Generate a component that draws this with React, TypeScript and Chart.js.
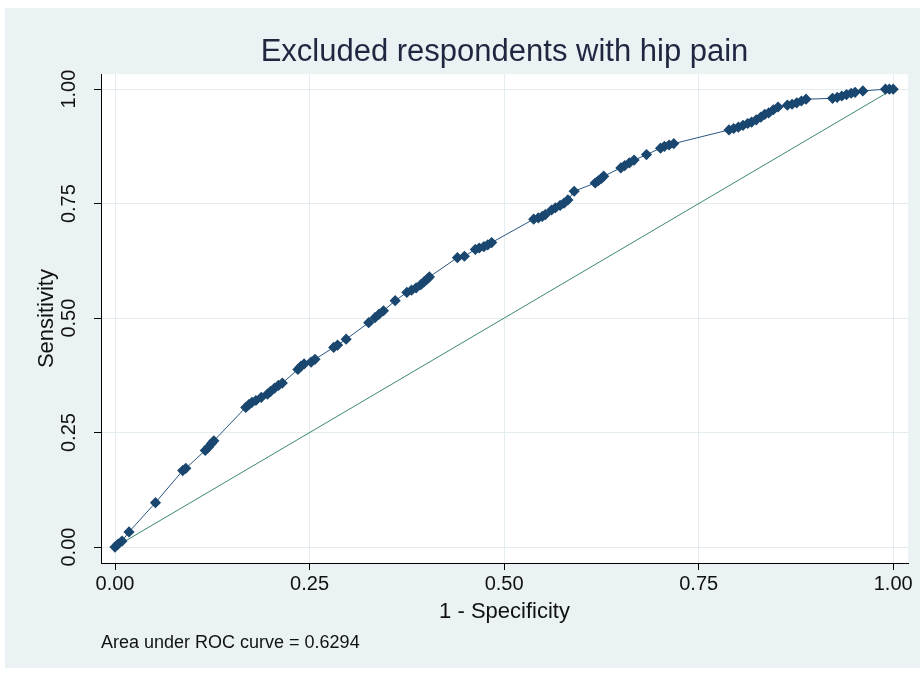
import React, { useEffect, useRef } from "react";
import { Chart, registerables } from "chart.js";

Chart.register(...registerables);

// ROC curve: 1 - specificity (false positive rate) and sensitivity at each cut-off
const rocFpr = [
  0, 0.004, 0.009, 0.018, 0.052, 0.087, 0.091, 0.116, 0.12, 0.124, 0.127, 0.168, 0.172, 0.176, 0.181, 0.188,
  0.196, 0.2, 0.205, 0.21, 0.215, 0.235, 0.239, 0.243, 0.252, 0.257, 0.281, 0.286, 0.297, 0.326, 0.334, 0.339,
  0.345, 0.36, 0.375, 0.381, 0.387, 0.393, 0.397, 0.401, 0.404, 0.44, 0.449, 0.463, 0.468, 0.474, 0.479, 0.484,
  0.538, 0.544, 0.549, 0.553, 0.561, 0.566, 0.572, 0.577, 0.582, 0.59, 0.617, 0.621, 0.625, 0.628, 0.65, 0.655,
  0.661, 0.667, 0.683, 0.701, 0.706, 0.712, 0.718, 0.789, 0.795, 0.801, 0.807, 0.813, 0.818, 0.824, 0.83, 0.835,
  0.84, 0.846, 0.852, 0.864, 0.87, 0.876, 0.882, 0.888, 0.922, 0.928, 0.934, 0.94, 0.946, 0.951, 0.961, 0.99,
  0.995, 1,
];
const rocTpr = [
  0, 0.0065, 0.013, 0.033, 0.097, 0.167, 0.172, 0.211, 0.218, 0.226, 0.232, 0.305, 0.311, 0.316, 0.32, 0.327,
  0.334, 0.34, 0.347, 0.353, 0.358, 0.388, 0.395, 0.4, 0.404, 0.41, 0.436, 0.441, 0.454, 0.49, 0.501, 0.508,
  0.516, 0.538, 0.556, 0.561, 0.566, 0.573, 0.579, 0.585, 0.59, 0.632, 0.635, 0.65, 0.653, 0.656, 0.66, 0.665,
  0.716, 0.719, 0.722, 0.726, 0.736, 0.741, 0.746, 0.751, 0.758, 0.777, 0.795, 0.8, 0.805, 0.81, 0.828, 0.833,
  0.839, 0.845, 0.857, 0.871, 0.875, 0.878, 0.881, 0.911, 0.914, 0.917, 0.921, 0.925, 0.928, 0.933, 0.939, 0.945,
  0.948, 0.955, 0.961, 0.965, 0.967, 0.97, 0.974, 0.978, 0.98, 0.982, 0.985, 0.988, 0.991, 0.993, 0.996, 1,
  1, 1,
];

// Chance line
const refX = [0, 1];
const refY = [0, 1];

const axisTicks = [0, 0.25, 0.5, 0.75, 1];
const areaUnderCurve = 0.6294;

const titleText = "Excluded respondents with hip pain";
const xTitle = "1 - Specificity";
const yTitle = "Sensitivity";

const FONT = "'Liberation Sans', Arial, Helvetica, sans-serif";
const NAVY = "#1a476f";
const GRID = "#e3edf0";
const BG = "#eaf2f3";

const plotBackground = {
  id: "plotBackground",
  beforeDraw(chart: any) {
    const { ctx, chartArea } = chart;
    ctx.save();
    ctx.fillStyle = "#ffffff";
    ctx.fillRect(chartArea.left, chartArea.top, chartArea.right - chartArea.left, chartArea.bottom - chartArea.top);
    ctx.restore();
  },
};

const fixedTicks = (scale: any) => {
  scale.ticks = axisTicks.map((v) => ({ value: v }));
};

export default function App() {
  const canvasRef = useRef<HTMLCanvasElement | null>(null);

  useEffect(() => {
    if (!canvasRef.current) return;
    const rocPoints = rocFpr.map((x, i) => ({ x, y: rocTpr[i] }));
    const refPoints = refX.map((x, i) => ({ x, y: refY[i] }));

    const chart = new Chart(canvasRef.current, {
      type: "scatter",
      data: {
        datasets: [
          {
            data: rocPoints,
            showLine: true,
            borderColor: "#2a5783",
            borderWidth: 1,
            pointStyle: "rectRot",
            pointRadius: 4.6,
            pointBorderWidth: 1.4,
            pointBackgroundColor: NAVY,
            pointBorderColor: NAVY,
            order: 0,
          },
          {
            data: refPoints,
            showLine: true,
            borderColor: "#3b8a6e",
            borderWidth: 1,
            pointRadius: 0,
            order: 1,
          },
        ],
      },
      options: {
        animation: false,
        responsive: true,
        maintainAspectRatio: false,
        layout: { padding: { left: 0, right: 12, top: 0, bottom: 0 } },
        plugins: {
          legend: { display: false },
          tooltip: { enabled: false },
          title: {
            display: true,
            text: titleText,
            fullSize: false,
            color: "#1f2740",
            font: { family: FONT, size: 31, weight: "normal" },
            padding: { top: 26, bottom: 3 },
          },
          subtitle: {
            display: true,
            text: `Area under ROC curve = ${areaUnderCurve.toFixed(4)}`,
            position: "bottom",
            align: "start",
            fullSize: false,
            color: "#111111",
            font: { family: FONT, size: 18, weight: "normal" },
            padding: { top: 7, bottom: 14 },
          },
        },
        scales: {
          x: {
            type: "linear",
            min: -0.018,
            max: 1.019,
            afterBuildTicks: fixedTicks,
            grid: { color: GRID, lineWidth: 1, tickColor: "#000000", tickLength: 7 },
            border: { display: true, color: "#000000", width: 1 },
            ticks: {
              autoSkip: false,
              padding: 2,
              maxRotation: 0,
              color: "#111111",
              font: { family: FONT, size: 20 },
              callback: (v: any) => Number(v).toFixed(2),
            },
            title: {
              display: true,
              text: xTitle,
              color: "#111111",
              font: { family: FONT, size: 22 },
              padding: { top: 1, bottom: 0 },
            },
          },
          y: {
            type: "linear",
            min: -0.0348,
            max: 1.0326,
            afterBuildTicks: fixedTicks,
            afterFit: (scale: any) => {
              scale.width = 96;
            },
            grid: { color: GRID, lineWidth: 1, tickColor: "#000000", tickLength: 7 },
            border: { display: true, color: "#000000", width: 1 },
            ticks: {
              autoSkip: false,
              minRotation: 90,
              maxRotation: 90,
              crossAlign: "center",
              padding: 5,
              color: "#111111",
              font: { family: FONT, size: 20 },
              callback: (v: any) => Number(v).toFixed(2),
            },
            title: {
              display: true,
              text: yTitle,
              color: "#111111",
              font: { family: FONT, size: 22 },
              padding: { top: 29, bottom: 0 },
            },
          },
        },
      },
      plugins: [plotBackground],
    });

    return () => chart.destroy();
  }, []);

  return (
    <div
      style={{
        position: "absolute",
        left: 5,
        top: 8,
        width: 915,
        height: 660,
        background: BG,
      }}
    >
      <canvas ref={canvasRef} />
    </div>
  );
}
